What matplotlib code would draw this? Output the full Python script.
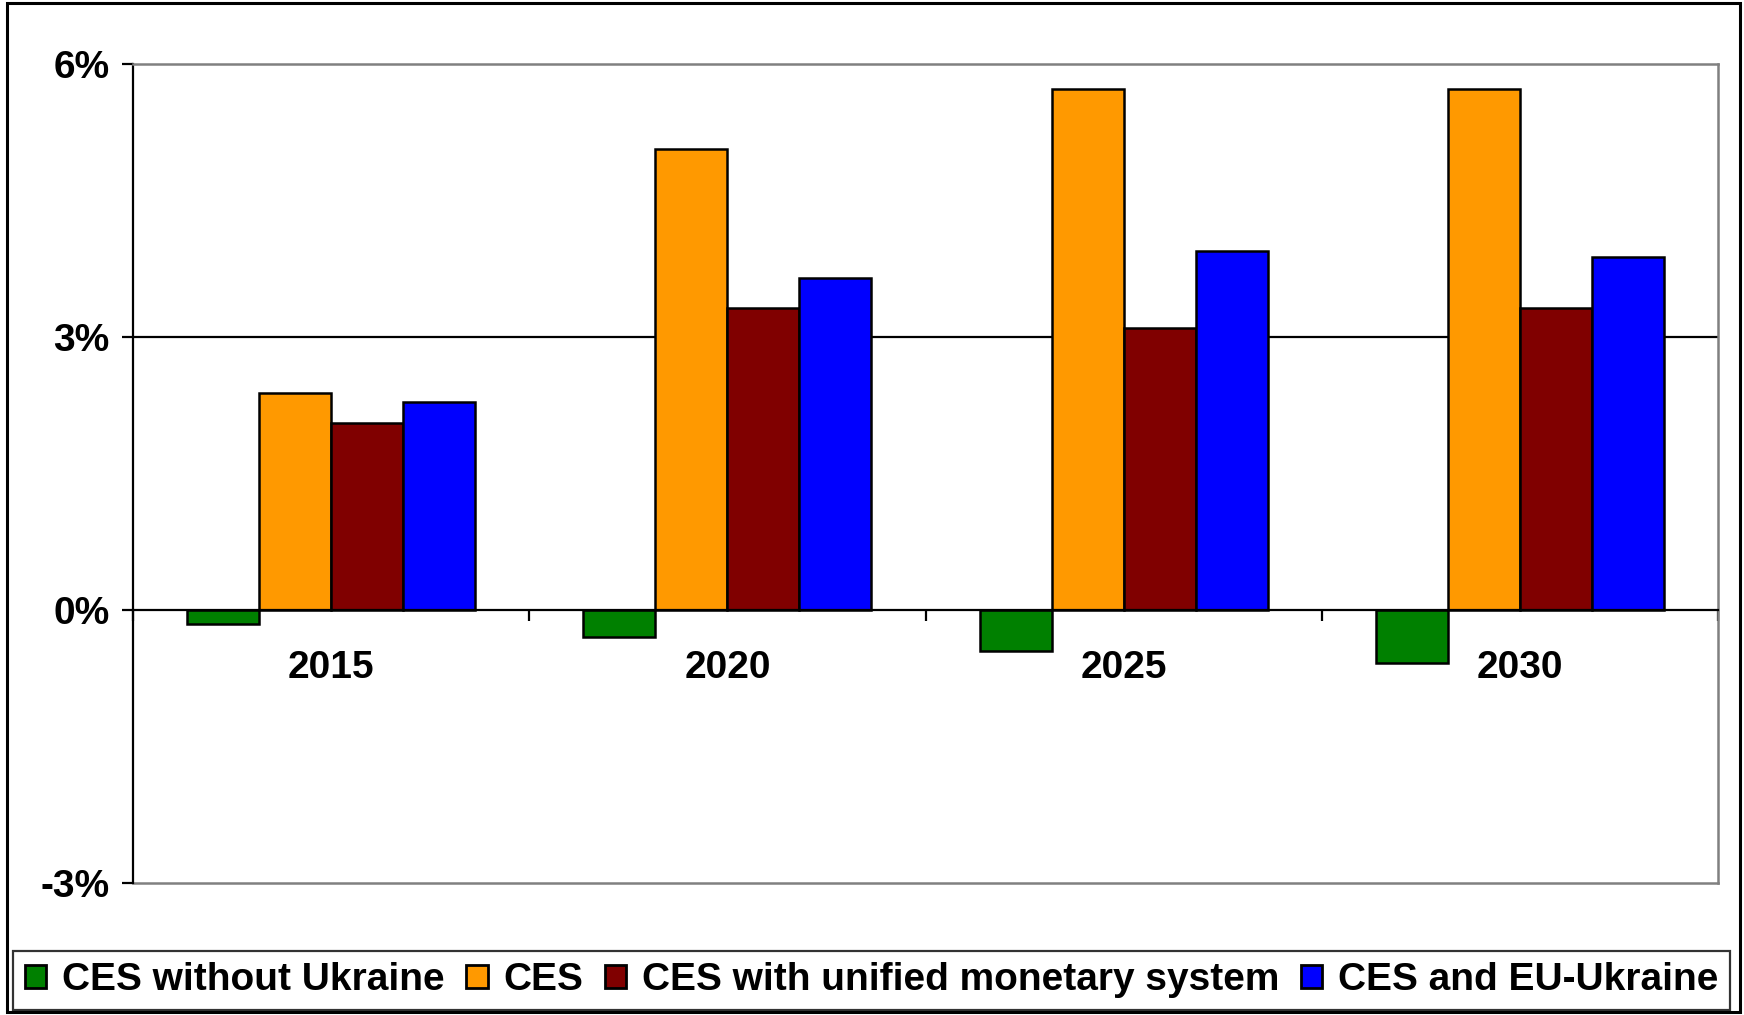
#!/usr/bin/env python3
# -*- coding: utf-8 -*-
"""
GDP growth scenarios: CES integration options, 2015-2030
"""

import numpy as np
import matplotlib
matplotlib.use('Agg')
import matplotlib.pyplot as plt
from matplotlib.patches import Rectangle
from matplotlib.ticker import FuncFormatter

plt.rcParams['font.family'] = ['Liberation Sans', 'DejaVu Sans']
plt.rcParams['font.weight'] = 'bold'

# 数据 (%)
years = ['2015', '2020', '2025', '2030']
series_names = ['CES without Ukraine', 'CES',
                'CES with unified monetary system', 'CES and EU-Ukraine']
ces_without_ukraine = [-0.15, -0.30, -0.45, -0.58]
ces = [2.39, 5.07, 5.73, 5.73]
ces_monetary = [2.06, 3.32, 3.10, 3.32]
ces_eu_ukraine = [2.29, 3.65, 3.95, 3.88]
colors = ['#008000', '#FF9900', '#800000', '#0000FF']

FS = 28
W, H = 1744, 1015
fig = plt.figure(figsize=(W / 100, H / 100), dpi=100, facecolor='white')
ax = fig.add_axes([133 / W, 1 - 883 / H, (1718 - 133) / W, (883 - 64) / H])

x = np.arange(len(years))
all_series = [ces_without_ukraine, ces, ces_monetary, ces_eu_ukraine]
bar_w = 1 / (len(all_series) + 1.5)
for k, (vals, name, c) in enumerate(zip(all_series, series_names, colors)):
    offs = (k - (len(all_series) - 1) / 2) * bar_w
    ax.bar(x + offs, vals, width=bar_w, color=c, edgecolor='black',
           linewidth=1.8, label=name, zorder=3)

ax.set_xlim(-0.5, len(years) - 0.5)
ax.set_ylim(-3, 6)

# y 轴
ax.set_yticks([-3, 0, 3, 6])
ax.yaxis.set_major_formatter(FuncFormatter(lambda v, p: f'{v:.0f}%'))
ax.tick_params(axis='y', direction='out', length=8, width=1.6, pad=9,
               labelsize=FS, color='black')
for lab in ax.get_yticklabels():
    lab.set_fontweight('bold')

# 网格线 3%
ax.axhline(3, color='black', linewidth=1.6, zorder=1)

# 边框
ax.spines['left'].set_color('black')
ax.spines['left'].set_linewidth(1.6)
for s in ['top', 'right']:
    ax.spines[s].set_color('#808080')
    ax.spines[s].set_linewidth(1.8)
ax.spines['bottom'].set_position(('data', 0))
ax.spines['bottom'].set_color('black')
ax.spines['bottom'].set_linewidth(1.6)
ax.spines['bottom'].set_zorder(4)
ax.axhline(-3, color='#808080', linewidth=1.8, clip_on=False, zorder=2)

# x 轴: 分类边界刻度 + 年份标签
ax.set_xticks(x)
ax.set_xticklabels(years)
ax.set_xticks(np.arange(len(years) + 1) - 0.5, minor=True)
ax.tick_params(axis='x', which='major', length=0, pad=29, labelsize=FS)
ax.tick_params(axis='x', which='minor', direction='out', length=8,
               width=1.6, color='black')
for lab in ax.get_xticklabels():
    lab.set_fontweight('bold')

# 图例
leg = fig.legend(loc='lower left', ncol=4, mode='expand',
                 bbox_to_anchor=(13 / W, 1 - 1010 / H, (1730 - 13) / W, 65 / H),
                 prop={'size': FS, 'weight': 'bold'}, frameon=True,
                 fancybox=False, shadow=False, borderaxespad=0,
                 handlelength=0.55, handleheight=0.55, handletextpad=0.4,
                 columnspacing=0.4, borderpad=0.3)
leg.get_frame().set_edgecolor('black')
leg.get_frame().set_linewidth(1.6)
for h in leg.legend_handles:
    h.set_linewidth(2.0)

# 外框
fig.patches.append(Rectangle((7 / W, 1 - 1012 / H), (1740 - 7) / W, (1012 - 3) / H,
                             transform=fig.transFigure, fill=False,
                             edgecolor='black', linewidth=2.2))

plt.savefig('out.png', dpi=100, facecolor='white')
plt.close()
